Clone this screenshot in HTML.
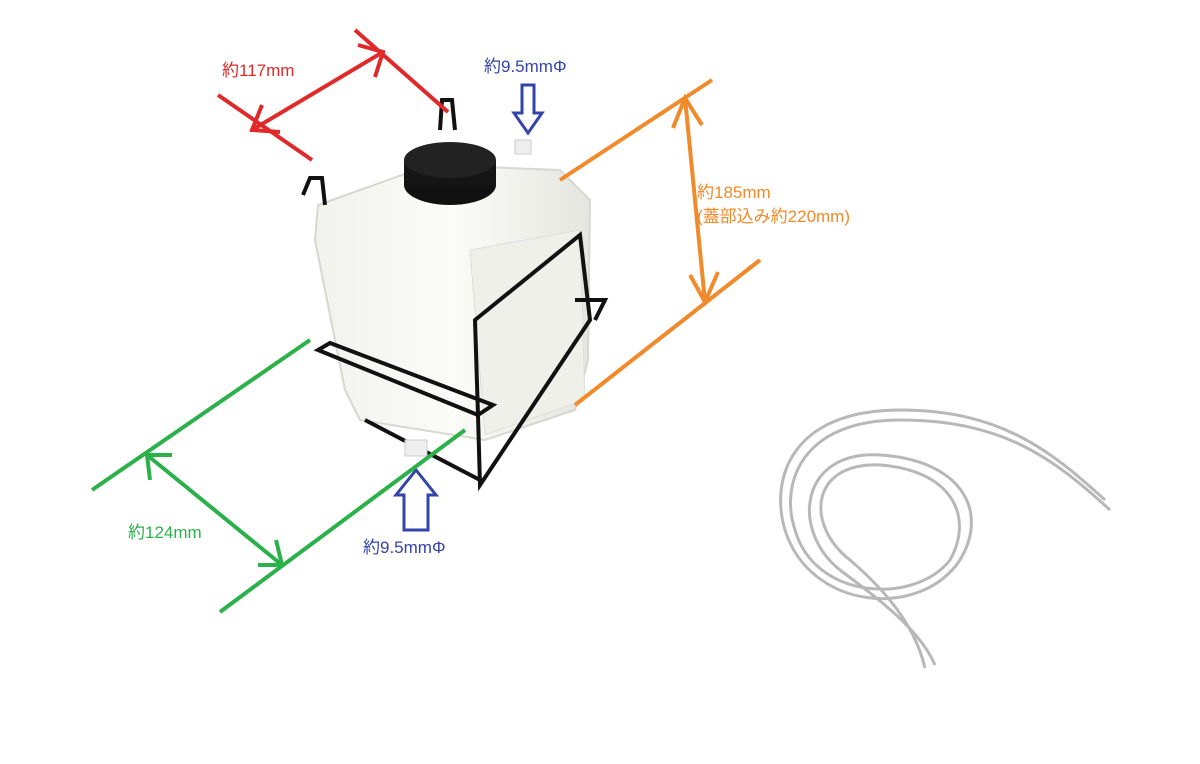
<!DOCTYPE html>
<html><head><meta charset="utf-8"><style>
html,body{margin:0;padding:0;background:#fff;}
svg{display:block;}
text{font-family:"Liberation Sans","Noto Sans CJK JP",sans-serif;font-size:17px;}
</style></head><body>
<svg width="1200" height="764" viewBox="0 0 1200 764" xmlns="http://www.w3.org/2000/svg">
<rect width="1200" height="764" fill="#fff"/>
<defs>
<linearGradient id="tank" x1="0" x2="1" y1="0" y2="0">
<stop offset="0" stop-color="#f2f2ee"/><stop offset="0.5" stop-color="#fbfbf8"/><stop offset="1" stop-color="#e6e6e0"/>
</linearGradient>
</defs>
<!-- tank body -->
<path d="M318,205 L430,165 L560,170 L590,200 L588,360 L575,410 L485,440 L360,420 L345,390 L315,240 Z" fill="url(#tank)" stroke="#d8d8d0" stroke-width="2"/>
<path d="M470,250 L580,230 L585,400 L485,435 Z" fill="#f0f0ea" stroke="#ddd" />
<!-- hooks -->
<path d="M303,195 L310,178 L322,178 L325,205" fill="none" stroke="#111" stroke-width="4"/>
<path d="M440,130 L442,100 L452,100 L455,130" fill="none" stroke="#111" stroke-width="4"/>
<!-- nozzle top -->
<rect x="515" y="140" width="16" height="14" fill="#eee" stroke="#ccc"/>
<!-- cap -->
<ellipse cx="450" cy="185" rx="46" ry="20" fill="#111"/>
<rect x="404" y="160" width="92" height="26" fill="#151515"/>
<ellipse cx="450" cy="160" rx="46" ry="18" fill="#222"/>
<!-- wire frame -->
<g fill="none" stroke="#111" stroke-width="4">
<path d="M318,350 L478,415 L493,405 L330,343 Z"/>
<path d="M478,415 L480,485 L590,320 L580,235 L475,320 L478,415"/>
<path d="M575,300 L605,300 L595,320"/>
<path d="M365,420 L480,480"/>
</g>
<!-- bottom nozzle -->
<rect x="405" y="440" width="22" height="16" fill="#eee" stroke="#ccc"/>
<!-- tubing -->
<g fill="none" stroke="#b8b8b8" stroke-width="3">
<path d="M1105,500 C1050,450 1000,410 900,410 C790,410 770,480 785,530 C810,610 920,620 960,560 C990,510 960,460 880,455 C800,450 790,530 840,570 C880,600 920,630 935,665"/>
<path d="M1110,510 C1055,460 1005,420 900,420 C800,420 780,485 795,530 C815,600 915,605 950,560 C975,515 950,470 880,465 C810,462 805,525 850,560 C885,590 915,625 925,668"/>
</g>
<!-- red -->
<g stroke="#e02a2a" stroke-width="4" fill="none">
<line x1="218" y1="95" x2="312" y2="160"/>
<line x1="355" y1="30" x2="448" y2="112"/>
<line x1="252" y1="130" x2="383" y2="52"/>
<polyline points="262,105 252,130 280,132"/>
<polyline points="358,45 383,52 375,77"/>
</g>
<text x="222" y="76" fill="#e02a2a">約117mm</text>
<!-- blue -->
<g stroke="#3344aa" stroke-width="3" fill="#fff">
<path d="M522,85 L534,85 L534,113 L542,113 L528,133 L514,113 L522,113 Z"/>
<path d="M404,530 L428,530 L428,495 L436,495 L416,470 L396,495 L404,495 Z"/>
</g>
<text x="484" y="72" fill="#3344aa">約9.5mmΦ</text>
<text x="363" y="553" fill="#3344aa">約9.5mmΦ</text>
<!-- orange -->
<g stroke="#f08a2a" stroke-width="4" fill="none">
<line x1="560" y1="180" x2="712" y2="80"/>
<line x1="575" y1="405" x2="760" y2="260"/>
<line x1="685" y1="98" x2="705" y2="302"/>
<polyline points="673,128 685,98 702,125"/>
<polyline points="690,275 705,302 718,272"/>
</g>
<text x="697" y="198" fill="#f08a2a">約185mm</text>
<text x="697" y="222" fill="#f08a2a">(蓋部込み約220mm)</text>
<!-- green -->
<g stroke="#2bb04a" stroke-width="4" fill="none">
<line x1="92" y1="490" x2="310" y2="340"/>
<line x1="220" y1="612" x2="465" y2="430"/>
<line x1="147" y1="455" x2="282" y2="565"/>
<polyline points="150,480 147,455 172,455"/>
<polyline points="258,565 282,565 276,540"/>
</g>
<text x="128" y="538" fill="#2bb04a">約124mm</text>
</svg>
</body></html>
